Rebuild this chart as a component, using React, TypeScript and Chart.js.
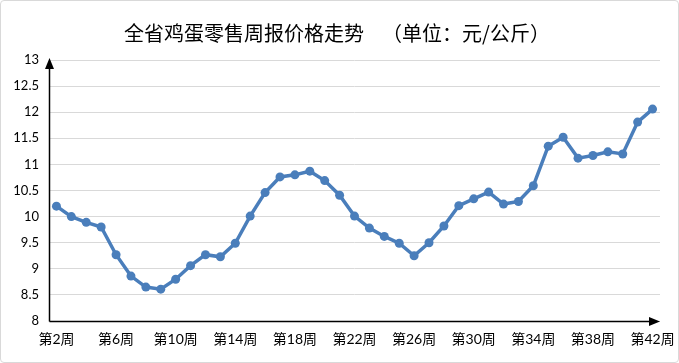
import React, { useEffect, useRef } from 'react';
import { Chart, registerables } from 'chart.js';

Chart.register(...registerables);

const titleText = '全省鸡蛋零售周报价格走势    （单位：元/公斤）';

const weeks = [
  '第2周', '第3周', '第4周', '第5周', '第6周', '第7周', '第8周', '第9周', '第10周', '第11周',
  '第12周', '第13周', '第14周', '第15周', '第16周', '第17周', '第18周', '第19周', '第20周', '第21周',
  '第22周', '第23周', '第24周', '第25周', '第26周', '第27周', '第28周', '第29周', '第30周', '第31周',
  '第32周', '第33周', '第34周', '第35周', '第36周', '第37周', '第38周', '第39周', '第40周', '第41周',
  '第42周',
];

const prices = [
  10.2, 10.0, 9.89, 9.8, 9.27, 8.86, 8.65, 8.61, 8.8, 9.06,
  9.27, 9.23, 9.49, 10.01, 10.46, 10.76, 10.8, 10.87, 10.69, 10.41,
  10.01, 9.78, 9.62, 9.49, 9.25, 9.5, 9.82, 10.21, 10.34, 10.47,
  10.24, 10.29, 10.59, 11.35, 11.52, 11.12, 11.17, 11.24, 11.2, 11.81,
  12.06,
];

const yMin = 8;
const yMax = 13;
const yStep = 0.5;
const xLabelEvery = 4;

const FONT = 'Lato, "Noto Sans CJK SC", sans-serif';

export default function App() {
  const ref = useRef<HTMLCanvasElement>(null);

  useEffect(() => {
    if (!ref.current) return;

    const axisArrows = {
      id: 'axisArrows',
      beforeDatasetsDraw(chart: any) {
        const { ctx, chartArea: a } = chart;
        const x0 = Math.round(a.left) + 0.5;
        const y0 = Math.round(a.bottom) + 0.5;
        ctx.save();
        ctx.strokeStyle = '#000';
        ctx.fillStyle = '#000';
        ctx.lineWidth = 1.5;
        // y axis
        ctx.beginPath();
        ctx.moveTo(x0, y0);
        ctx.lineTo(x0, a.top + 6);
        ctx.stroke();
        ctx.beginPath();
        ctx.moveTo(x0, a.top - 2);
        ctx.lineTo(x0 - 4.5, a.top + 9);
        ctx.lineTo(x0 + 4.5, a.top + 9);
        ctx.closePath();
        ctx.fill();
        // x axis
        ctx.beginPath();
        ctx.moveTo(x0, y0);
        ctx.lineTo(a.right - 6, y0);
        ctx.stroke();
        ctx.beginPath();
        ctx.moveTo(a.right, y0);
        ctx.lineTo(a.right - 11, y0 - 4.5);
        ctx.lineTo(a.right - 11, y0 + 4.5);
        ctx.closePath();
        ctx.fill();
        ctx.restore();
      },
    };

    const chart = new Chart(ref.current, {
      type: 'line',
      data: {
        labels: weeks,
        datasets: [
          {
            data: prices,
            borderColor: '#4a7ebb',
            backgroundColor: '#4a7ebb',
            borderWidth: 3.5,
            pointRadius: 4.5,
            pointBorderWidth: 0,
            pointBackgroundColor: '#4a7ebb',
            tension: 0,
          },
        ],
      },
      options: {
        responsive: false,
        maintainAspectRatio: false,
        animation: false,
        layout: { padding: { left: 14, right: 19, top: 0, bottom: 0 } },
        plugins: {
          legend: { display: false },
          tooltip: { enabled: false },
          title: {
            display: true,
            text: titleText,
            color: '#000',
            font: { family: '"Noto Sans CJK SC", sans-serif', size: 20, weight: 'normal', lineHeight: 1.2 },
            padding: { top: 21, bottom: 15 },
          },
        },
        scales: {
          x: {
            type: 'category',
            offset: true,
            grid: { display: false, drawTicks: false },
            border: { display: false },
            ticks: {
              autoSkip: false,
              maxRotation: 0,
              minRotation: 0,
              padding: 10,
              color: '#000',
              font: { family: FONT, size: 14 },
              callback: (_v: any, i: number) => (i % xLabelEvery === 0 ? weeks[i] : ''),
            },
            afterFit: (scale: any) => {
              scale.height = 42;
              scale.paddingLeft = 0;
              scale.paddingRight = 0;
            },
          },
          y: {
            min: yMin,
            max: yMax,
            grid: { color: '#d9d9d9', lineWidth: 1, drawTicks: false },
            border: { display: false },
            ticks: {
              stepSize: yStep,
              padding: 10,
              color: '#000',
              font: { family: FONT, size: 13 },
              callback: (v: any) => String(Number(v)),
            },
            afterFit: (scale: any) => {
              scale.width = 35;
            },
          },
        },
      },
      plugins: [axisArrows],
    });

    return () => chart.destroy();
  }, []);

  return (
    <div style={{ position: 'fixed', left: 0, top: 0, width: 679, height: 363, background: '#fff' }}>
      <canvas ref={ref} width={679} height={363} style={{ display: 'block', width: 679, height: 363 }} />
      <div
        style={{
          position: 'absolute',
          left: 0,
          top: 0,
          width: 679,
          height: 363,
          boxSizing: 'border-box',
          border: '1px solid #d9d9d9',
          borderRadius: 4,
          pointerEvents: 'none',
        }}
      />
    </div>
  );
}
